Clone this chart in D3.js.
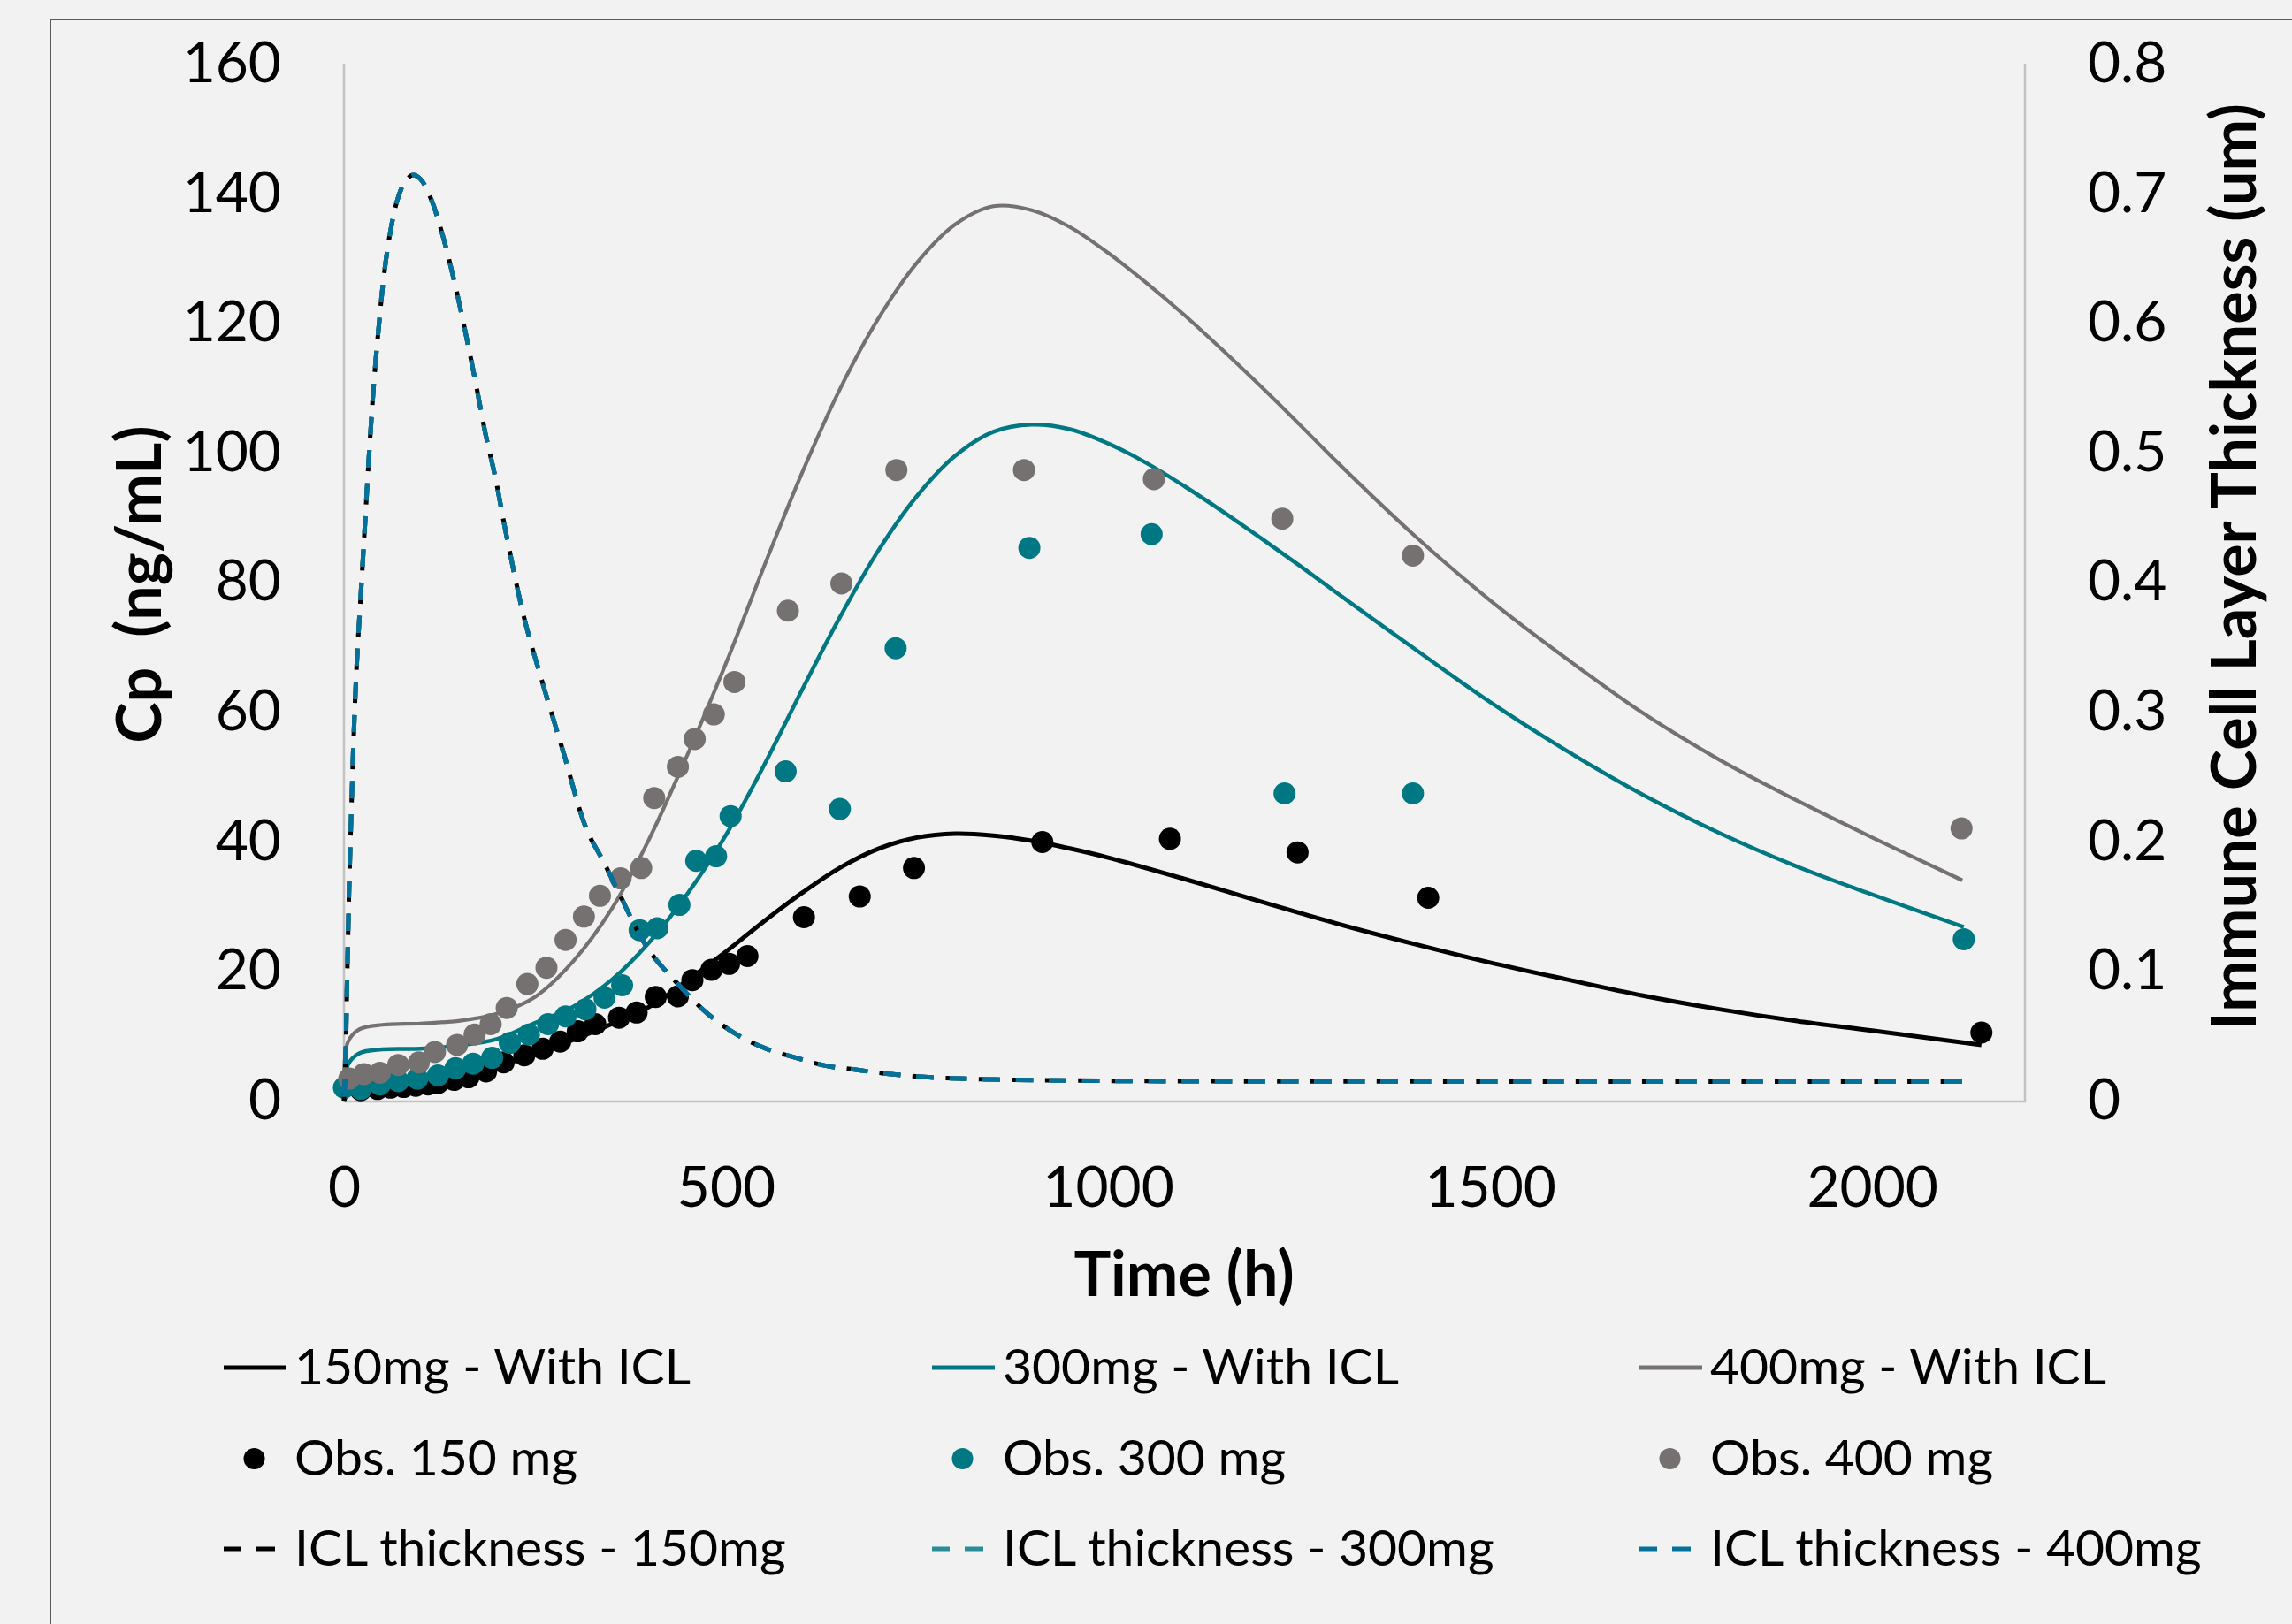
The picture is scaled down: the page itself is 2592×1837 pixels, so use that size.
<!DOCTYPE html>
<html>
<head>
<meta charset="utf-8">
<script src="https://cdn.jsdelivr.net/npm/d3@7/dist/d3.min.js"></script>
<style>
  html, body { margin: 0; padding: 0; background: #f2f2f2; }
  svg { display: block; font-family: Lato, "Open Sans", sans-serif; }
</style>
</head>
<body>
<svg id="chart" width="2592" height="1837"></svg>
<script>
// ---------------- DATA ----------------
const xTicks = [0, 500, 1000, 1500, 2000];
const yTicks = [0, 20, 40, 60, 80, 100, 120, 140, 160];
const y2Ticks = [0, 0.1, 0.2, 0.3, 0.4, 0.5, 0.6, 0.7, 0.8];

// Model curves (Cp, ng/mL)
const model150T = [0,5,20,50,100,150,200,250,300,350,400,450,500,550,600,650,700,750,800,850,900,950,1000,1100,1200,1300,1400,1500,1600,1700,1800,1900,2000,2143];
const model150  = [0,1.0,1.6,1.9,2.5,3.5,5.2,7.2,9.4,11.8,14.5,18.6,23.0,27.7,32.1,36.0,38.9,40.6,41.2,40.9,40.1,38.9,37.5,34.2,30.7,27.3,24.2,21.3,18.7,16.2,14.1,12.3,10.8,8.6];

const model300T = [0,5,20,50,100,150,200,250,300,350,400,450,500,550,600,650,700,750,800,850,900,950,1000,1050,1100,1150,1200,1250,1300,1400,1500,1600,1700,1800,1900,2000,2120];
const model300  = [0,5.5,7.3,7.9,8.0,8.5,9.5,12.0,14.5,18.6,24.5,32.0,41.0,51.8,63.5,74.8,85.0,93.3,99.5,103.2,104.3,103.6,101.4,98.4,94.8,90.9,86.8,82.6,78.3,69.8,61.5,54.0,47.2,41.3,36.2,31.8,26.8];

const model400T = [0,5,20,50,100,150,200,250,300,350,400,450,500,550,600,650,700,750,800,850,900,950,1000,1050,1100,1150,1200,1250,1300,1400,1500,1600,1700,1800,1900,2000,2118];
const model400  = [0,9,11,11.7,11.9,12.3,13.4,16.0,21.5,29.5,40.5,53.5,67.5,82.5,97.0,110.0,120.8,129.3,135.2,138.0,137.4,134.8,130.8,126.2,121.2,115.8,110.2,104.4,98.5,87.3,77.2,68.2,59.8,52.6,46.4,40.6,34.0];

// Observed data
const obs150T = [22,44,61,78,94,110,123,144,163,186,209,236,260,283,306,329,360,383,408,437,456,481,504,528,602,675,746,914,1081,1248,1419,2143];
const obs150  = [1.6,1.8,2.0,2.1,2.3,2.5,2.7,3.2,3.6,4.5,5.9,7.0,8.0,9.1,10.7,11.8,12.8,13.6,16.0,16.1,18.6,20.2,21.1,22.3,28.3,31.5,35.9,39.9,40.4,38.3,31.3,10.5];

const obs300T = [0,22,47,71,96,123,146,169,194,217,242,267,290,316,341,364,387,410,439,461,487,506,578,649,722,897,1057,1231,1399,2120];
const obs300  = [2.0,1.8,2.5,3.0,3.4,3.9,5.0,5.7,6.6,8.9,10.2,11.8,13.0,14.1,15.9,17.8,26.3,26.6,30.2,37.0,37.7,43.9,50.8,45.0,69.8,85.3,87.4,47.4,47.4,24.9];

const obs400T = [7,26,47,71,98,119,148,171,192,213,240,265,290,314,335,362,389,406,437,459,484,511,581,651,723,890,1060,1228,1399,2117];
const obs400  = [3.4,4.1,4.3,5.5,5.9,7.5,8.6,10.2,11.8,14.3,18.0,20.5,24.8,28.4,31.6,34.3,35.9,46.7,51.5,55.8,59.6,64.6,75.6,79.8,97.3,97.3,95.9,89.8,84.1,42.0];

// Immune cell layer thickness (um) - the three doses overlap in the figure
const iclT = [0,2,4,7,10,13,17,21,27,33,40,46,52,60,70,80,90,100,113,128,144,156,171,185,198,213,236,260,287,317,340,360,398,437,476,514,553,592,630,668,707,765,850,950,1100,1300,1600,1900,2118];
const icl150 = [0,0.03,0.09,0.17,0.23,0.285,0.34,0.38,0.44,0.50,0.56,0.60,0.635,0.668,0.695,0.709,0.714,0.711,0.697,0.67,0.633,0.601,0.558,0.515,0.481,0.435,0.372,0.322,0.269,0.21,0.184,0.160,0.117,0.090,0.067,0.051,0.040,0.033,0.027,0.024,0.021,0.018,0.0163,0.0155,0.015,0.0148,0.0147,0.0147,0.0147];
const icl300 = [0,0.03,0.09,0.17,0.23,0.285,0.34,0.38,0.44,0.50,0.56,0.60,0.635,0.668,0.695,0.709,0.714,0.711,0.697,0.67,0.633,0.601,0.558,0.515,0.481,0.435,0.372,0.322,0.269,0.21,0.184,0.160,0.117,0.090,0.067,0.051,0.040,0.033,0.027,0.024,0.021,0.018,0.0163,0.0155,0.015,0.0148,0.0147,0.0147,0.0147];
const icl400 = [0,0.03,0.09,0.17,0.23,0.285,0.34,0.38,0.44,0.50,0.56,0.60,0.635,0.668,0.695,0.709,0.714,0.711,0.697,0.67,0.633,0.601,0.558,0.515,0.481,0.435,0.372,0.322,0.269,0.21,0.184,0.160,0.117,0.090,0.067,0.051,0.040,0.033,0.027,0.024,0.021,0.018,0.0163,0.0155,0.015,0.0148,0.0147,0.0147,0.0147];

const legendLabels = [
  "150mg - With ICL", "300mg - With ICL", "400mg - With ICL",
  "Obs. 150 mg", "Obs. 300 mg", "Obs. 400 mg",
  "ICL thickness - 150mg", "ICL thickness - 300mg", "ICL thickness - 400mg"
];

// ---------------- STYLE ----------------
const C_BLACK = "#000000", C_TEAL = "#007884", C_GRAY = "#767171", C_BLUE = "#04709c", C_TEAL_D = "#2a8c94";

const svg = d3.select("#chart");
svg.append("rect").attr("x",0).attr("y",0).attr("width",2592).attr("height",1837).attr("fill","#f2f2f2");
// outer chart border (cropped)
svg.append("rect").attr("x",57).attr("y",22).attr("width",2700).attr("height",2000)
  .attr("fill","none").attr("stroke","#5a5a5a").attr("stroke-width",2);

const x = d3.scaleLinear().domain([0,2200]).range([389,2290]);
const y = d3.scaleLinear().domain([0,160]).range([1245,72]);
const y2 = d3.scaleLinear().domain([0,0.8]).range([1245,72]);

// plot area lines
const axisColor = "#c3c3c3";
svg.append("line").attr("x1",389).attr("x2",389).attr("y1",72).attr("y2",1247).attr("stroke",axisColor).attr("stroke-width",2.5);
svg.append("line").attr("x1",389).attr("x2",2291).attr("y1",1246).attr("y2",1246).attr("stroke",axisColor).attr("stroke-width",2.5);
svg.append("line").attr("x1",2290).attr("x2",2290).attr("y1",72).attr("y2",1247).attr("stroke",axisColor).attr("stroke-width",2.5);

// axes
const gL = svg.append("g").attr("transform","translate(389,0)")
  .call(d3.axisLeft(y).tickValues(yTicks).tickSize(0).tickPadding(71).tickFormat(d3.format("d")));
const gB = svg.append("g").attr("transform","translate(0,1245)")
  .call(d3.axisBottom(x).tickValues(xTicks).tickSize(0).tickPadding(75).tickFormat(d3.format("d")));
const gR = svg.append("g").attr("transform","translate(2290,0)")
  .call(d3.axisRight(y2).tickValues(y2Ticks).tickSize(0).tickPadding(71).tickFormat(d => d === 0 ? "0" : d.toFixed(1)));
[gL,gB,gR].forEach(g => {
  g.select(".domain").remove();
  g.selectAll("text").attr("font-family","Lato").attr("font-size",64).attr("fill","#000");
});

// titles
svg.append("text").attr("x",1339).attr("y",1466).attr("text-anchor","middle")
  .attr("font-size",70).attr("font-weight","bold").text("Time (h)");
svg.append("text").attr("transform","translate(182,661) rotate(-90)").attr("text-anchor","middle")
  .attr("font-size",70).attr("font-weight","bold").attr("xml:space","preserve").style("white-space","pre").text("Cp  (ng/mL)");
svg.append("text").attr("transform","translate(2551,641) rotate(-90)").attr("text-anchor","middle")
  .attr("font-size",70).attr("font-weight","bold").text("Immune Cell Layer Thickness (um)");

// lines
const zip = (ts, vs) => ts.map((t,i) => [t, vs[i]]);
const curve = d3.curveCatmullRom.alpha(0.5);
const lineY = d3.line().x(d => x(d[0])).y(d => y(d[1])).curve(curve);
const lineY2 = d3.line().x(d => x(d[0])).y(d => y2(d[1])).curve(curve);

const plot = svg.append("g");
plot.append("path").datum(zip(model150T, model150)).attr("d", lineY).attr("fill","none").attr("stroke",C_BLACK).attr("stroke-width",5);
plot.append("path").datum(zip(model300T, model300)).attr("d", lineY).attr("fill","none").attr("stroke",C_TEAL).attr("stroke-width",4.5);
plot.append("path").datum(zip(model400T, model400)).attr("d", lineY).attr("fill","none").attr("stroke",C_GRAY).attr("stroke-width",4.2);

// observed points
const R = 12.5;
[[obs150T, obs150, C_BLACK],[obs300T, obs300, C_TEAL],[obs400T, obs400, C_GRAY]].forEach(([ts, vs, col]) => {
  plot.append("g").selectAll("circle").data(zip(ts, vs)).join("circle")
    .attr("cx", d => x(d[0])).attr("cy", d => y(d[1])).attr("r", R).attr("fill", col);
});

// ICL thickness (secondary axis)
plot.append("path").datum(zip(iclT, icl150)).attr("d", lineY2).attr("fill","none").attr("stroke",C_BLACK)
  .attr("stroke-width",5).attr("stroke-dasharray","24 13.5");
plot.append("path").datum(zip(iclT, icl300)).attr("d", lineY2).attr("fill","none").attr("stroke",C_TEAL_D)
  .attr("stroke-width",5).attr("stroke-dasharray","19.5 18").attr("stroke-dashoffset",-4.5);
plot.append("path").datum(zip(iclT, icl400)).attr("d", lineY2).attr("fill","none").attr("stroke",C_BLUE)
  .attr("stroke-width",5).attr("stroke-dasharray","19.5 18").attr("stroke-dashoffset",-4.5);

// legend
const colX = [0, 801, 1601];
const rowY = [1547, 1650, 1752];
const symX0 = 253, symX1 = 324, textX = 333;
const legendItems = [
  {type:"line", color:C_BLACK}, {type:"line", color:C_TEAL}, {type:"line", color:C_GRAY},
  {type:"dot", color:C_BLACK}, {type:"dot", color:C_TEAL}, {type:"dot", color:C_GRAY},
  {type:"dash", color:C_BLACK}, {type:"dash", color:C_TEAL_D}, {type:"dash", color:C_BLUE}
];
const lg = svg.append("g");
legendItems.forEach((it, i) => {
  const cx = colX[i % 3], ry = rowY[Math.floor(i / 3)];
  const g = lg.append("g").attr("transform", `translate(${cx},0)`);
  if (it.type === "line") {
    g.append("line").attr("x1",symX0).attr("x2",symX1).attr("y1",ry).attr("y2",ry).attr("stroke",it.color).attr("stroke-width",5);
  } else if (it.type === "dot") {
    g.append("circle").attr("cx",(symX0+symX1)/2 - 1).attr("cy",ry).attr("r",12).attr("fill",it.color);
  } else {
    g.append("line").attr("x1",symX0).attr("x2",symX0+20).attr("y1",ry).attr("y2",ry).attr("stroke",it.color).attr("stroke-width",5);
    g.append("line").attr("x1",symX0+37).attr("x2",symX0+58).attr("y1",ry).attr("y2",ry).attr("stroke",it.color).attr("stroke-width",5);
  }
  g.append("text").attr("x",textX).attr("y",ry + 19).attr("font-size",57).attr("fill","#000").text(legendLabels[i]);
});
</script>
</body>
</html>
